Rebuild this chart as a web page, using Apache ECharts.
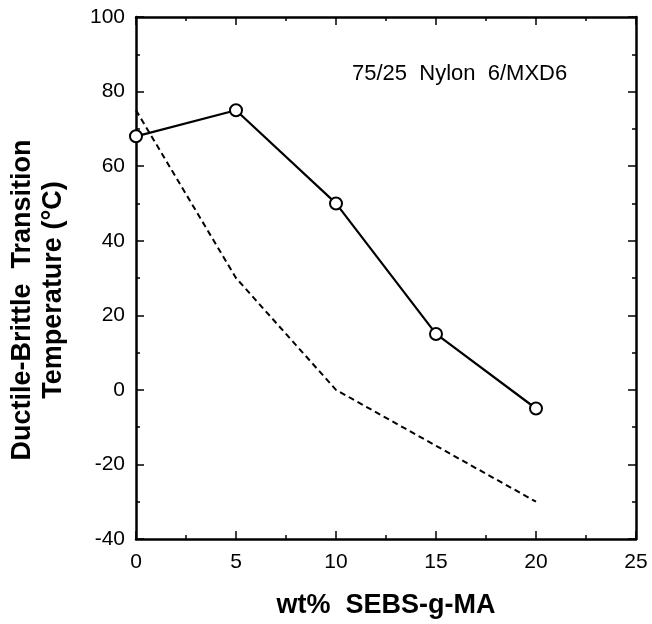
<!DOCTYPE html>
<html>
<head>
<meta charset="utf-8">
<script src="https://cdn.jsdelivr.net/npm/echarts@6/dist/echarts.min.js"></script>
<style>
html,body{margin:0;padding:0;background:#fff;}
#chart{width:652px;height:624px;}
</style>
</head>
<body>
<div id="chart"></div>
<script>
var wtPct = [0, 5, 10, 15, 20];
var measuredDBTT = [68, 75, 50, 15, -5];
var referenceDBTT = [75, 30, 0, -15, -30];
var annotationText = '75/25  Nylon  6/MXD6';
var xTitle = 'wt%  SEBS-g-MA';
var yTitleLine1 = 'Ductile-Brittle  Transition';
var yTitleLine2 = 'Temperature (°C)';

var FONT = '"Liberation Sans", Arial, Helvetica, sans-serif';
var chart = echarts.init(document.getElementById('chart'));

function pairs(xs, ys){ return xs.map(function(x,i){ return [x, ys[i]]; }); }

var axisLine = {show:true, onZero:false, lineStyle:{color:'#000', width:2.5}};
var tick = {show:true, inside:true, length:8, lineStyle:{color:'#000', width:1.5}};
var minor = {show:true, splitNumber:2, length:4, lineStyle:{color:'#000', width:1.5}};

chart.setOption({
  backgroundColor:'#fff',
  animation:false,
  grid:{left:136, right:16, top:17, bottom:81, containLabel:false},
  xAxis:[{
    type:'value', position:'bottom', min:0, max:25, interval:5,
    axisLine:axisLine, axisTick:tick, minorTick:minor,
    splitLine:{show:false}, minorSplitLine:{show:false},
    axisLabel:{color:'#000', fontSize:21, fontFamily:FONT, margin:13},
    name:xTitle, nameLocation:'middle', nameGap:53,
    nameTextStyle:{color:'#000', fontSize:27, fontWeight:'bold', fontFamily:FONT}
  },{
    type:'value', position:'top', min:0, max:25, interval:5,
    axisLine:axisLine, axisTick:tick, minorTick:minor,
    splitLine:{show:false}, axisLabel:{show:false}
  }],
  yAxis:[{
    type:'value', position:'left', min:-40, max:100, interval:20,
    axisLine:axisLine, axisTick:tick, minorTick:minor,
    splitLine:{show:false}, minorSplitLine:{show:false},
    axisLabel:{color:'#000', fontSize:21, fontFamily:FONT, margin:11}
  },{
    type:'value', position:'right', min:-40, max:100, interval:20,
    axisLine:axisLine, axisTick:tick, minorTick:minor,
    splitLine:{show:false}, axisLabel:{show:false}
  }],
  graphic:[{
    type:'text', left:352, top:63,
    style:{text:annotationText, fill:'#000', font:'22px ' + FONT}
  },{
    type:'text', x:23, y:300, rotation:Math.PI/2,
    style:{text:yTitleLine1, fill:'#000', font:'bold 27px ' + FONT, align:'center', verticalAlign:'middle', textAlign:'center', textVerticalAlign:'middle'}
  },{
    type:'text', x:54, y:290, rotation:Math.PI/2,
    style:{text:yTitleLine2, fill:'#000', font:'bold 27px ' + FONT, align:'center', verticalAlign:'middle', textAlign:'center', textVerticalAlign:'middle'}
  }],
  series:[{
    type:'line', xAxisIndex:0, yAxisIndex:0,
    data:pairs(wtPct, referenceDBTT),
    showSymbol:false, symbol:'none',
    lineStyle:{color:'#000', width:2, type:[6,4]},
    z:2
  },{
    type:'line', xAxisIndex:0, yAxisIndex:0,
    data:pairs(wtPct, measuredDBTT),
    symbol:'circle', symbolSize:12,
    itemStyle:{color:'#fff', borderColor:'#000', borderWidth:2},
    lineStyle:{color:'#000', width:2.2},
    z:3
  }]
});
</script>
</body>
</html>
